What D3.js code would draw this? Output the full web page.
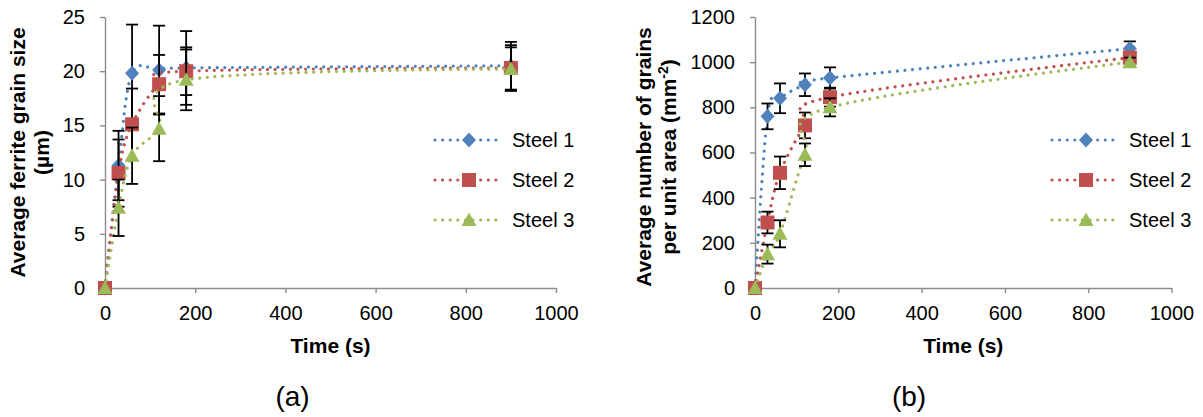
<!DOCTYPE html>
<html><head><meta charset="utf-8">
<script src="https://cdn.jsdelivr.net/npm/d3@7"></script>
<style>body{margin:0;background:#fff} text{font-family:"Liberation Sans",Arial,sans-serif;fill:#000}</style>
</head><body><svg id="c" width="1203" height="417"></svg>
<script>
// ---------- data ----------
const times = [0, 30, 60, 120, 180, 900];
const seriesNames = ["Steel 1", "Steel 2", "Steel 3"];
const xTicks = [0, 200, 400, 600, 800, 1000];

// (a) average ferrite grain size (µm)
const grainSize1 = [0, 11.3, 19.8, 20.1, 20.3, 20.5];
const grainSize2 = [0, 10.6, 15.1, 18.8, 20.0, 20.3];
const grainSize3 = [0, 7.4, 12.2, 14.7, 19.2, 20.2];
const grainErr1 = [0, 3.2, 4.5, 4.1, 3.4, 2.2];
const grainErr2 = [0, 3.1, 3.3, 2.7, 2.2, 2.1];
const grainErr3 = [0, 2.6, 2.6, 3.0, 2.8, 2.0];
const grainTicks = [0, 5, 10, 15, 20, 25];

// (b) average number of grains per unit area (mm^-2)
const grainCount1 = [0, 760, 840, 900, 930, 1060];
const grainCount2 = [0, 290, 510, 720, 845, 1020];
const grainCount3 = [0, 150, 240, 590, 800, 1000];
const countErr1 = [0, 57, 66, 50, 47, 32];
const countErr2 = [0, 48, 72, 57, 42, 25];
const countErr3 = [0, 42, 60, 50, 40, 20];
const countTicks = [0, 200, 400, 600, 800, 1000, 1200];

// ---------- styling ----------
const colors = ["#4F81BD", "#C0504D", "#9BBB59"];
const axisColor = "#8C8C8C";
const fmt = d3.format("d");
const svg = d3.select("#c");
svg.append("rect").attr("width", 1203).attr("height", 417).attr("fill", "#fff");

function markerPath(kind) {
  if (kind === 0) return "M0,-7.5L7,0L0,7.5L-7,0Z";
  if (kind === 1) return "M-7,-7H7V7H-7Z";
  return "M0,-7.5L7.5,6L-7.5,6Z";
}

function panel(cfg) {
  const g = svg.append("g");
  const x = d3.scaleLinear().domain([0, 1000]).range([cfg.left, cfg.right]);
  const y = d3.scaleLinear().domain(cfg.yDomain).range([288, 17]);

  const ya = g.append("g").attr("transform", `translate(${cfg.left},0)`)
    .call(d3.axisLeft(y).tickValues(cfg.yTicks).tickFormat(fmt).tickSize(5).tickSizeOuter(0).tickPadding(15));
  const xa = g.append("g").attr("transform", `translate(0,288)`)
    .call(d3.axisBottom(x).tickValues(xTicks).tickFormat(fmt).tickSize(5).tickSizeOuter(0).tickPadding(13));
  [ya, xa].forEach(a => {
    a.attr("font-family", null);
    a.selectAll("path,line").attr("stroke", axisColor).attr("stroke-width", 1.4);
    a.selectAll("text").attr("font-size", 20).attr("fill", "#000");
  });

  const line = d3.line().x((d, i) => x(times[i])).y(d => y(d)).curve(d3.curveCatmullRom.alpha(0));

  cfg.series.forEach((vals, s) => {
    const sg = g.append("g");
    sg.append("path").attr("d", line(vals)).attr("fill", "none")
      .attr("stroke", colors[s]).attr("stroke-width", 3.2)
      .attr("stroke-linecap", "round").attr("stroke-dasharray", "0.01 7.6");
    const errs = cfg.errors[s];
    vals.forEach((v, i) => {
      if (!errs[i]) return;
      const cx = x(times[i]), y1 = y(v + errs[i]), y2 = y(v - errs[i]);
      sg.append("line").attr("x1", cx).attr("x2", cx).attr("y1", y1).attr("y2", y2)
        .attr("stroke", "#000").attr("stroke-width", 1.8);
      [y1, y2].forEach(yy => sg.append("line").attr("x1", cx - 6).attr("x2", cx + 6)
        .attr("y1", yy).attr("y2", yy).attr("stroke", "#000").attr("stroke-width", 1.8));
    });
    vals.forEach((v, i) => {
      sg.append("path").attr("d", markerPath(s))
        .attr("transform", `translate(${x(times[i])},${y(v)})`).attr("fill", colors[s]);
    });
  });

  // legend
  seriesNames.forEach((name, s) => {
    const ly = 140 + 40 * s;
    g.append("line").attr("x1", cfg.legendX).attr("x2", cfg.legendX + 67)
      .attr("y1", ly).attr("y2", ly).attr("stroke", colors[s]).attr("stroke-width", 3.2)
      .attr("stroke-linecap", "round").attr("stroke-dasharray", "0.01 7.6");
    g.append("path").attr("d", markerPath(s))
      .attr("transform", `translate(${cfg.legendX + 34},${ly})`).attr("fill", colors[s]);
    g.append("text").attr("x", cfg.legendX + 77).attr("y", ly + 7).attr("font-size", 20).text(name);
  });

  // axis titles
  g.append("text").attr("x", (cfg.left + cfg.right) / 2).attr("y", 352.5)
    .attr("text-anchor", "middle").attr("font-size", 21).attr("font-weight", "bold").text("Time (s)");
  cfg.yTitle(g);

  g.append("text").attr("x", cfg.labelX).attr("y", 406).attr("text-anchor", "middle")
    .attr("font-size", 28).text(cfg.label);
}

panel({
  left: 105, right: 556, yDomain: [0, 25], yTicks: grainTicks,
  series: [grainSize1, grainSize2, grainSize3],
  errors: [grainErr1, grainErr2, grainErr3],
  legendX: 435, labelX: 292.5, label: "(a)",
  yTitle: g => {
    g.append("text").attr("transform", "translate(25,152.5) rotate(-90)").attr("text-anchor", "middle")
      .attr("font-size", 21).attr("font-weight", "bold").text("Average ferrite grain size");
    g.append("text").attr("transform", "translate(49,152.5) rotate(-90)").attr("text-anchor", "middle")
      .attr("font-size", 21).attr("font-weight", "bold").text("(µm)");
  }
});

panel({
  left: 755, right: 1171.5, yDomain: [0, 1200], yTicks: countTicks,
  series: [grainCount1, grainCount2, grainCount3],
  errors: [countErr1, countErr2, countErr3],
  legendX: 1052, labelX: 909, label: "(b)",
  yTitle: g => {
    g.append("text").attr("transform", "translate(651,157) rotate(-90)").attr("text-anchor", "middle")
      .attr("font-size", 21).attr("font-weight", "bold").text("Average number of grains");
    const t = g.append("text").attr("transform", "translate(676,157) rotate(-90)").attr("text-anchor", "middle")
      .attr("font-size", 21).attr("font-weight", "bold");
    t.append("tspan").text("per unit area (mm");
    t.append("tspan").attr("font-size", 14).attr("dy", -8).text("-2");
    t.append("tspan").attr("dy", 8).text(")");
  }
});
</script></body></html>
